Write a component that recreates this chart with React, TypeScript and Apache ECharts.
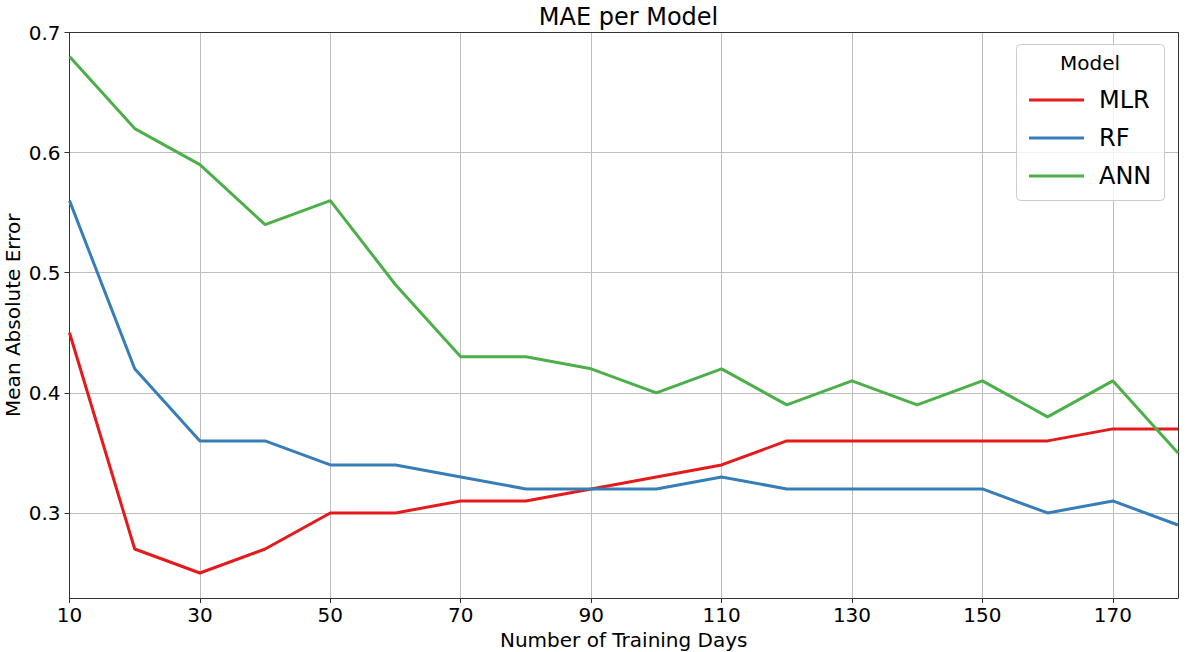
import React, { useEffect, useRef } from "react";
import * as echarts from "echarts";

const days = [10, 20, 30, 40, 50, 60, 70, 80, 90, 100, 110, 120, 130, 140, 150, 160, 170, 180];
const mlr = [0.45, 0.27, 0.25, 0.27, 0.30, 0.30, 0.31, 0.31, 0.32, 0.33, 0.34, 0.36, 0.36, 0.36, 0.36, 0.36, 0.37, 0.37];
const rf = [0.56, 0.42, 0.36, 0.36, 0.34, 0.34, 0.33, 0.32, 0.32, 0.32, 0.33, 0.32, 0.32, 0.32, 0.32, 0.30, 0.31, 0.29];
const ann = [0.68, 0.62, 0.59, 0.54, 0.56, 0.49, 0.43, 0.43, 0.42, 0.40, 0.42, 0.39, 0.41, 0.39, 0.41, 0.38, 0.41, 0.35];
const xTicks = [10, 30, 50, 70, 90, 110, 130, 150, 170];
const yTicks = [0.3, 0.4, 0.5, 0.6, 0.7];
const seriesNames = ["MLR", "RF", "ANN"];
const colors = ["#e41a1c", "#377eb8", "#4daf4a"];

const FONT = "DejaVu Sans";

export default function App() {
  const ref = useRef<HTMLDivElement>(null);
  useEffect(() => {
    document.body.style.margin = "0";
    const chart = echarts.init(ref.current!, null, { renderer: "svg" });
    const allData = [mlr, rf, ann];
    const axisLineStyle = { color: "#333333", width: 1 };
    chart.setOption({
      animation: false,
      backgroundColor: "#ffffff",
      textStyle: { fontFamily: FONT },
      title: {
        text: "MAE per Model",
        left: 623.5,
        textAlign: "center",
        top: 0,
        textStyle: { fontFamily: FONT, fontSize: 24, fontWeight: "normal", color: "#000" },
      },
      grid: { left: 69.5, top: 32.5, right: 18, bottom: 54, containLabel: false, outerBoundsMode: "none" },
      legend: {
        orient: "vertical",
        left: 1024,
        top: 81,
        z: 20,
        itemWidth: 55,
        itemHeight: 3,
        itemGap: 10,
        icon: "rect",
        data: seriesNames,
        textStyle: { fontFamily: FONT, fontSize: 24, color: "#000", lineHeight: 28, padding: [0, 0, 0, 10] },
      },
      xAxis: [
        {
          type: "value",
          min: 10,
          max: 180,
          name: "Number of Training Days",
          nameLocation: "middle",
          nameGap: 32,
          nameMoveOverlap: false,
          nameTextStyle: { fontFamily: FONT, fontSize: 20, color: "#000" },
          axisLine: { show: true, lineStyle: axisLineStyle },
          axisTick: { show: true, inside: false, length: 5, customValues: xTicks, lineStyle: axisLineStyle },
          axisLabel: { customValues: xTicks, margin: 7, fontFamily: FONT, fontSize: 20, color: "#000" },
          splitLine: { show: true, lineStyle: { color: "#bdbdbd", width: 1 } },
        },
        {
          type: "value",
          position: "top",
          min: 10,
          max: 180,
          axisLine: { show: true, onZero: false, lineStyle: axisLineStyle },
          axisTick: { show: false },
          axisLabel: { show: false },
          splitLine: { show: false },
        },
      ],
      yAxis: [
        {
          type: "value",
          min: 0.2292,
          max: 0.7,
          name: "Mean Absolute Error",
          nameLocation: "middle",
          nameGap: 47,
          nameMoveOverlap: false,
          nameTextStyle: { fontFamily: FONT, fontSize: 20, color: "#000" },
          axisLine: { show: true, lineStyle: axisLineStyle },
          axisTick: { show: true, inside: false, length: 5, customValues: yTicks, lineStyle: axisLineStyle },
          axisLabel: {
            customValues: yTicks,
            margin: 9,
            fontFamily: FONT,
            fontSize: 20,
            color: "#000",
            formatter: (v: number) => v.toFixed(1),
          },
          splitLine: { show: true, lineStyle: { color: "#bdbdbd", width: 1 } },
        },
        {
          type: "value",
          position: "right",
          min: 0.2292,
          max: 0.7,
          axisLine: { show: true, onZero: false, lineStyle: axisLineStyle },
          axisTick: { show: false },
          axisLabel: { show: false },
          splitLine: { show: false },
        },
      ],
      graphic: [
        {
          type: "rect",
          z: 10,
          shape: { x: 1016.5, y: 44.5, width: 148, height: 156, r: 4 },
          style: { fill: "rgba(255,255,255,0.8)", stroke: "#cccccc", lineWidth: 1 },
        },
        {
          type: "text",
          z: 11,
          x: 1090,
          y: 63,
          style: {
            text: "Model",
            fontFamily: FONT,
            fontSize: 20,
            fill: "#000",
            align: "center",
            verticalAlign: "middle",
          },
        },
      ],
      series: seriesNames.map((name, i) => ({
        name,
        type: "line",
        xAxisIndex: 0,
        yAxisIndex: 0,
        symbol: "none",
        z: 3,
        color: colors[i],
        lineStyle: { color: colors[i], width: 3 },
        data: days.map((d, j) => [d, allData[i][j]]),
      })),
    });
    return () => chart.dispose();
  }, []);
  return <div ref={ref} style={{ position: "fixed", left: 0, top: 0, width: 1196, height: 652 }} />;
}
